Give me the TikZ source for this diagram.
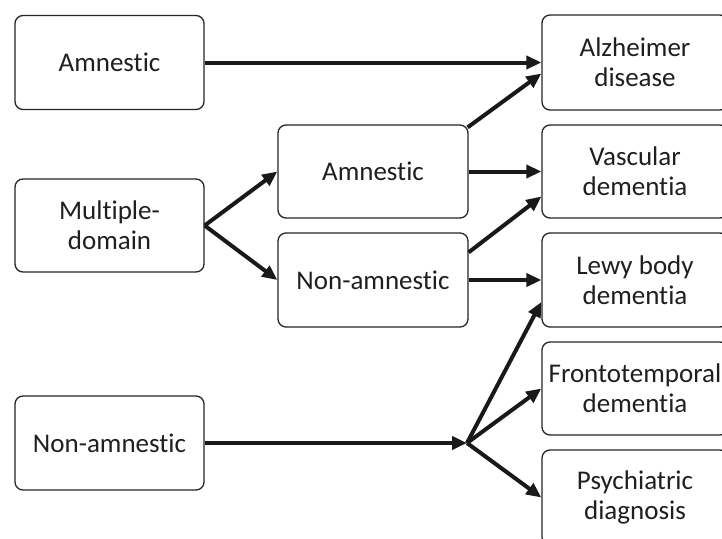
\documentclass[tikz,border=0pt]{standalone}
\usepackage{fontspec}
\setmainfont{Carlito}[Ligatures=NoCommon]
\usetikzlibrary{arrows.meta,calc}
\begin{document}
\begin{tikzpicture}[x=1pt,y=-1pt,
  box/.style={draw=black!85,line width=1.3pt,rounded corners=8pt,align=center,
    minimum width=189pt,minimum height=94pt,inner sep=0pt,
    font=\fontsize{27}{30}\selectfont,text=black!88},
  conn/.style={line width=4pt,draw=black!90,-{Triangle[length=15pt,width=13pt]}}]
\path[use as bounding box,clip] (0,0) rectangle (722,538);
\fill[white] (0,0) rectangle (722,538);
% left column
\node[box] (a1) at (109.5,62.5) {Amnestic};
\node[box,minimum height=93pt] (md) at (109.5,225.5) {Multiple-\\domain};
\node[box] (na) at (109.5,443) {Non-amnestic};
% middle column
\node[box,minimum width=190pt,minimum height=93pt] (mA) at (373,171.5) {Amnestic};
\node[box,minimum width=190pt] (mN) at (373,280) {Non-amnestic};
% right column
\node[box,minimum width=186pt,minimum height=95pt] (AD) at (635,62.5) {Alzheimer\\disease};
\node[box,minimum width=186pt,minimum height=93pt] (VD) at (635,171.5) {Vascular\\dementia};
\node[box,minimum width=186pt] (LB) at (635,280) {Lewy body\\dementia};
\node[box,minimum width=186pt,minimum height=93pt] (FT) at (635,388.5) {Frontotemporal\\dementia};
\node[box,minimum width=186pt,minimum height=95pt] (PD) at (635,497.5) {Psychiatric\\diagnosis};
\coordinate (J) at (467,443);
% connectors
\draw[conn] (a1.east) -- (AD.west);
\draw[conn] (md.east) -- (mA.west);
\draw[conn] (md.east) -- (mN.west);
\draw[conn] ($(mA.north east)+(-1,3)$) -- ($(AD.west)+(0,11)$);
\draw[conn] (mA.east) -- (VD.west);
\draw[conn] ($(mN.north east)+(0,20)$) -- ($(VD.west)+(0,25)$);
\draw[conn] (mN.east) -- (LB.west);
\draw[conn] (na.east) -- (J);
\draw[conn] (J) -- ($(LB.west)+(0,22)$);
\draw[conn] (J) -- (FT.west);
\draw[conn] (J) -- (PD.west);
\end{tikzpicture}
\end{document}
